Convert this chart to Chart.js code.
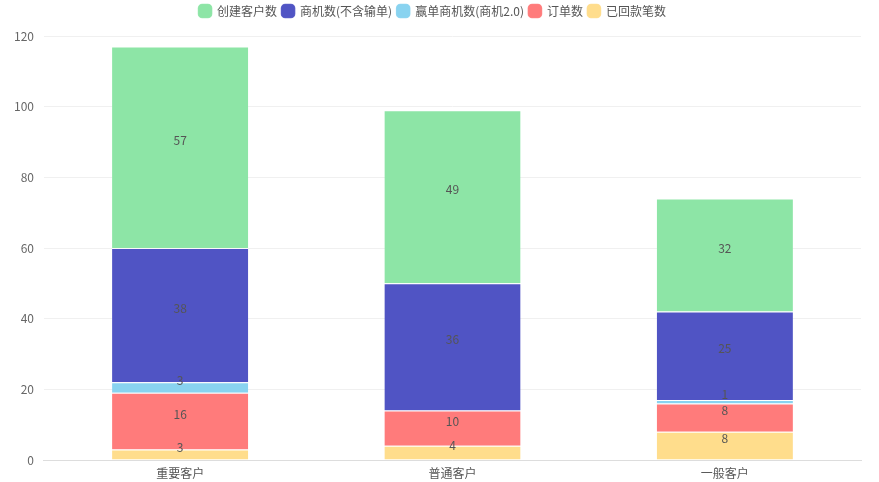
<!DOCTYPE html>
<html>
<head>
<meta charset="utf-8">
<script src="https://cdn.jsdelivr.net/npm/chart.js@4"></script>
<style>
  html, body { margin: 0; padding: 0; background: #fff; }
  #wrap { width: 879px; height: 482px; }
</style>
</head>
<body>
<div id="wrap"><canvas id="customerChart"></canvas></div>
<script>
        // Data
        const categories = ['重要客户', '普通客户', '一般客户'];
        const paidCounts = [3, 4, 8];          // 已回款笔数
        const orderCounts = [16, 10, 8];       // 订单数
        const wonCounts = [3, 0, 1];           // 赢单商机数(商机2.0)
        const oppCounts = [38, 36, 25];        // 商机数(不含输单)
        const createdCounts = [57, 49, 32];    // 创建客户数
        const yTicks = [0, 20, 40, 60, 80, 100, 120];

        const FONT = '"Noto Sans CJK SC", "Noto Sans", sans-serif';
        Chart.defaults.font.family = FONT;

        // Value labels, drawn a little above the middle of each segment
        const segmentLabels = {
            id: 'segmentLabels',
            afterDatasetsDraw(chart) {
                const c = chart.ctx;
                c.save();
                c.font = '12px ' + FONT;
                c.fillStyle = '#555';
                c.textAlign = 'center';
                c.textBaseline = 'middle';
                chart.data.datasets.forEach((ds, i) => {
                    const meta = chart.getDatasetMeta(i);
                    if (meta.hidden) return;
                    meta.data.forEach((bar, j) => {
                        const v = ds.data[j];
                        if (!v) return;
                        c.fillText(String(v), bar.x, (bar.y + bar.base) / 2 - 7);
                    });
                });
                c.restore();
            }
        };

        // A bit more room under the legend
        const legendGap = {
            id: 'legendGap',
            beforeLayout(chart) {
                const lg = chart.legend;
                if (!lg || lg._gapPatched) return;
                const fit = lg.fit;
                lg.fit = function () { fit.call(this); this.height += 9; };
                lg._gapPatched = true;
            }
        };

        const ctx = document.getElementById('customerChart').getContext('2d');
        new Chart(ctx, {
            type: 'bar',
            data: {
                labels: categories,
                datasets: [
                    { label: '创建客户数', data: createdCounts, backgroundColor: '#8de5a6', order: 5 },
                    { label: '商机数(不含输单)', data: oppCounts, backgroundColor: '#5054c4', order: 4 },
                    { label: '赢单商机数(商机2.0)', data: wonCounts, backgroundColor: '#89d3f0', order: 3 },
                    { label: '订单数', data: orderCounts, backgroundColor: '#ff7b7b', order: 2 },
                    { label: '已回款笔数', data: paidCounts, backgroundColor: '#ffdd8c', order: 1 }
                ].map(d => Object.assign(d, {
                    stack: 's',
                    borderColor: 'rgba(255,255,255,0.6)',
                    borderWidth: { top: 1 },
                    borderSkipped: false,
                    categoryPercentage: 1,
                    barPercentage: 0.5
                }))
            },
            options: {
                responsive: true,
                maintainAspectRatio: false,
                animation: false,
                layout: { padding: { left: 4, right: 18, top: 0, bottom: 0 } },
                plugins: {
                    legend: {
                        position: 'top',
                        labels: {
                            usePointStyle: true,
                            pointStyle: 'rectRounded',
                            boxWidth: 12,
                            boxHeight: 12,
                            padding: 5,
                            color: '#555',
                            font: { size: 12 },
                            sort: (a, b) => a.datasetIndex - b.datasetIndex
                        }
                    },
                    tooltip: { enabled: false }
                },
                scales: {
                    x: {
                        stacked: true,
                        grid: { display: false },
                        border: { color: '#ddd' },
                        ticks: { color: '#555', font: { size: 12 }, padding: -2 },
                        afterFit: s => { s.height = 22; }
                    },
                    y: {
                        stacked: true,
                        min: 0,
                        max: 120,
                        afterBuildTicks: axis => { axis.ticks = yTicks.map(v => ({ value: v })); },
                        grid: { color: '#f0f0f0', drawTicks: false },
                        border: { display: false },
                        ticks: { color: '#666', font: { size: 12 }, padding: 10 }
                    }
                }
            },
            plugins: [segmentLabels, legendGap]
        });
</script>
</body>
</html>
